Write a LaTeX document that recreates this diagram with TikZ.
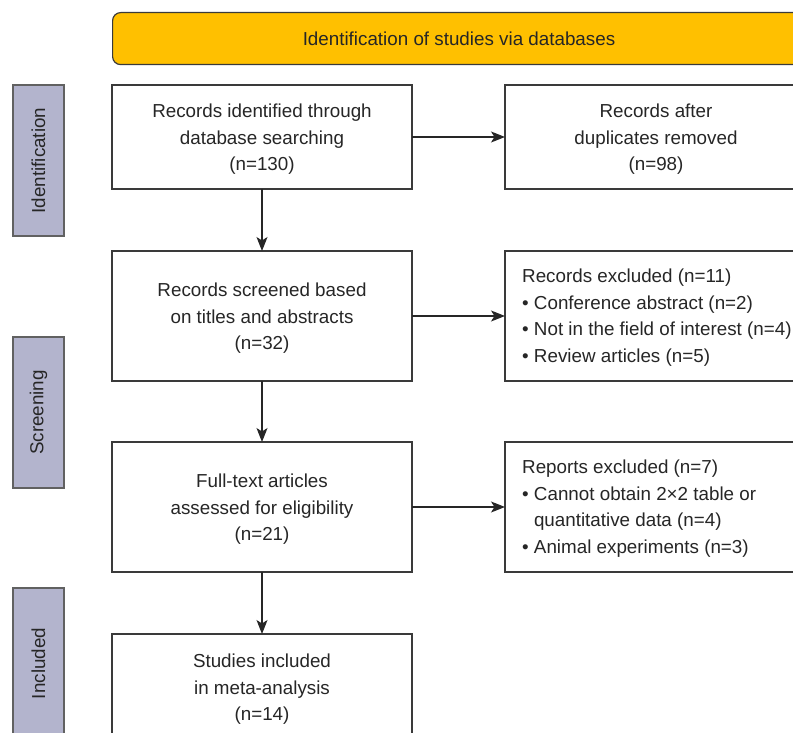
\documentclass[tikz,border=0pt]{standalone}
\usepackage{fontspec}
\setmainfont{Liberation Sans}
\usetikzlibrary{arrows.meta}
\definecolor{bannerfill}{HTML}{FFC000}
\definecolor{tabfill}{HTML}{B3B4CD}
\definecolor{linecol}{HTML}{3A3A3A}
\definecolor{txtcol}{HTML}{262626}
\begin{document}
\begin{tikzpicture}[x=1pt,y=-1pt,
  box/.style={draw=linecol,line width=1.2pt,fill=white,anchor=north west,inner sep=0pt,outer sep=0pt,minimum width=300pt},
  rbox/.style={box,minimum width=302pt},
  tabbox/.style={draw=linecol!80,line width=1.2pt,fill=tabfill,anchor=north west,inner sep=0pt,outer sep=0pt,minimum width=51pt,minimum height=151pt},
  txt/.style={text=txtcol,align=center,inner sep=0pt,font=\fontsize{18.8}{26.5}\selectfont},
  ctxt/.style={txt,yshift=-2.5pt},
  txtl/.style={txt,align=left,anchor=west,yshift=-1.5pt},
  tabtxt/.style={txt,rotate=90},
  arr/.style={draw=txtcol,line width=1.2pt,-{Stealth[length=14pt,width=11pt,inset=3.5pt]}}
]
\useasboundingbox (0,0) rectangle (793,733);
\clip (0,0) rectangle (793,733);

% banner
\node[draw=linecol,line width=1.2pt,fill=bannerfill,rounded corners=8pt,anchor=north west,inner sep=0pt,minimum width=694pt,minimum height=52pt] (banner) at (112,12) {};
\node[txt] (bannert) at (459,39) {Identification of studies via databases};

% side tabs
\node[tabbox] (tab1) at (13,85) {};
\node[tabtxt] (tab1t) at (tab1.center) {Identification};
\node[tabbox] (tab2) at (13,337) {};
\node[tabtxt] (tab2t) at (tab2.center) {Screening};
\node[tabbox] (tab3) at (13,588) {};
\node[tabtxt] (tab3t) at (tab3.center) {Included};

% left column
\node[box,minimum height=104pt] (b1) at (112,85) {};
\node[ctxt] (b1t) at (b1.center) {Records identified through\\database searching\\(n=130)};
\node[box,minimum height=130pt] (b2) at (112,251) {};
\node[ctxt] (b2t) at (b2.center) {Records screened based\\on titles and abstracts\\(n=32)};
\node[box,minimum height=130pt] (b3) at (112,442) {};
\node[ctxt] (b3t) at (b3.center) {Full-text articles\\assessed for eligibility\\(n=21)};
\node[box,minimum height=106pt] (b4) at (112,634) {};
\node[ctxt] (b4t) at (b4.center) {Studies included\\in meta-analysis\\(n=14)};

% right column
\node[rbox,minimum height=104pt] (r1) at (505,85) {};
\node[ctxt] (r1t) at (r1.center) {Records after\\duplicates removed\\(n=98)};
\node[rbox,minimum height=130pt] (r2) at (505,251) {};
\node[txtl] (r2t) at ([xshift=17pt]r2.west) {Records excluded (n=11)\\\textbullet\ Conference abstract (n=2)\\\textbullet\ Not in the field of interest (n=4)\\\textbullet\ Review articles (n=5)};
\node[rbox,minimum height=130pt] (r3) at (505,442) {};
\node[txtl] (r3t) at ([xshift=17pt]r3.west) {Reports excluded (n=7)\\\textbullet\ Cannot obtain 2×2 table or\\\phantom{\textbullet\ }quantitative data (n=4)\\\textbullet\ Animal experiments (n=3)};

% connectors
\draw[arr] (b1) -- (b2);
\draw[arr] (b2) -- (b3);
\draw[arr] (b3) -- (b4);
\draw[arr] (b1.east) -- (r1.west);
\draw[arr] (b2.east) -- (r2.west);
\draw[arr] (b3.east) -- (r3.west);
\end{tikzpicture}
\end{document}
